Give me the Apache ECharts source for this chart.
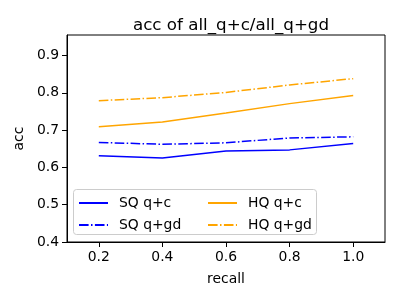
<!DOCTYPE html>
<html><head><meta charset="utf-8">
<script src="https://cdn.jsdelivr.net/npm/echarts@6/dist/echarts.min.js"></script>
<style>html,body{margin:0;padding:0;background:#fff}#c{width:400px;height:300px}</style>
</head><body><div id="c"></div>
<script>
const recall = [0.2, 0.4, 0.6, 0.8, 1.0];
const sqQC  = [0.631, 0.625, 0.644, 0.647, 0.664];
const sqQGD = [0.667, 0.662, 0.666, 0.679, 0.682];
const hqQC  = [0.709, 0.722, 0.746, 0.771, 0.793];
const hqQGD = [0.779, 0.787, 0.801, 0.821, 0.838];
const xTicks = [0.2, 0.4, 0.6, 0.8, 1.0];
const yTicks = [0.4, 0.5, 0.6, 0.7, 0.8, 0.9];

const font = 'DejaVu Sans';
const dashdot = [9.6, 2.4, 1.5, 2.4];
function mk(name, ys, color, dash) {
  return {
    name, type: 'line', data: recall.map((x, i) => [x, ys[i]]),
    symbol: 'none', lineStyle: { color, width: 1.5, type: dash ? dashdot : 'solid', cap: 'butt' },
    itemStyle: { color }, animation: false
  };
}
const chart = echarts.init(document.getElementById('c'), null, { renderer: 'canvas' });
const legendCommon = {
  orient: 'vertical', itemWidth: 29, itemHeight: 10, itemGap: 8,
  itemStyle: { opacity: 0 },
  lineStyle: { width: 2 },
  textStyle: { fontFamily: font, fontSize: 13.9, color: '#000', padding: [0, 0, 0, 6] }, padding: 0
};
chart.setOption({
  animation: false,
  title: { text: 'acc of all_q+c/all_q+gd', left: 226, top: 12, textAlign: 'center',
    textStyle: { fontFamily: font, fontSize: 16.7, fontWeight: 'normal', color: '#000' } },
  grid: { left: 67, right: 15, top: 35, bottom: 58, show: true, borderColor: '#000', borderWidth: 1 },
  graphic: [{ type: 'rect', shape: { x: 73.5, y: 189.5, width: 243, height: 45, r: 3 },
    style: { fill: 'rgba(255,255,255,0.8)', stroke: '#cccccc', lineWidth: 1 }, z: 100 }],
  legend: [
    Object.assign({}, legendCommon, { data: ['SQ q+c', 'SQ q+gd'], left: 78, top: 196, z: 101 }),
    Object.assign({}, legendCommon, { data: ['HQ q+c', 'HQ q+gd'], left: 207, top: 196, z: 101 })
  ],
  xAxis: {
    type: 'value', min: 0.1, max: 1.1, name: 'recall', nameLocation: 'middle', nameGap: 30,
    nameTextStyle: { fontFamily: font, fontSize: 13.9, color: '#000' },
    axisLine: { show: true, lineStyle: { color: '#000' } },
    axisTick: { show: true, length: 5, inside: false, customValues: xTicks, lineStyle: { color: '#000' } },
    axisLabel: { customValues: xTicks, fontFamily: font, fontSize: 13.9, color: '#000', margin: 8,
      formatter: v => v.toFixed(1) },
    splitLine: { show: false }
  },
  yAxis: {
    type: 'value', min: 0.4, max: 0.955, name: 'acc', nameLocation: 'middle', nameGap: 36,
    nameTextStyle: { fontFamily: font, fontSize: 13.9, color: '#000' },
    axisLine: { show: true, lineStyle: { color: '#000' } },
    axisTick: { show: true, length: 5, customValues: yTicks, lineStyle: { color: '#000' } },
    axisLabel: { customValues: yTicks, fontFamily: font, fontSize: 13.9, color: '#000', margin: 8,
      formatter: v => v.toFixed(1) },
    splitLine: { show: false }
  },
  series: [
    mk('SQ q+c', sqQC, '#0000ff', false),
    mk('SQ q+gd', sqQGD, '#0000ff', true),
    mk('HQ q+c', hqQC, '#ffa500', false),
    mk('HQ q+gd', hqQGD, '#ffa500', true)
  ]
});
</script></body></html>
